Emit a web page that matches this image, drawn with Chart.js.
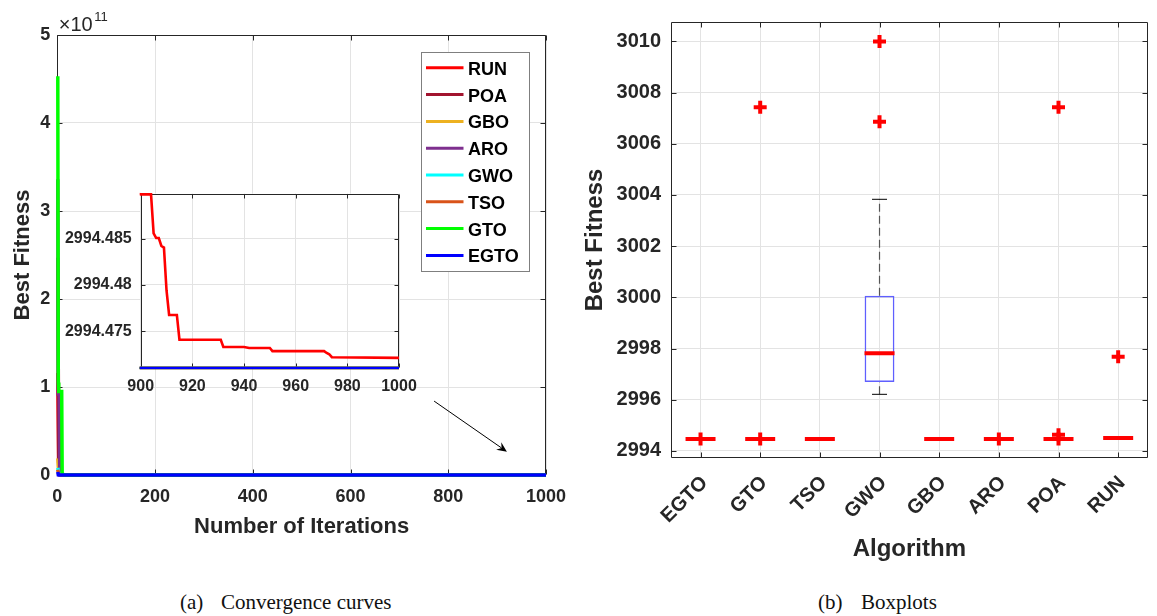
<!DOCTYPE html>
<html>
<head>
<meta charset="utf-8">
<title>Convergence curves and boxplots</title>
<script src="https://cdn.jsdelivr.net/npm/chart.js@4.4.1/dist/chart.umd.min.js"></script>
<style>
  html, body { margin: 0; padding: 0; background: #fff; }
  #page { position: relative; width: 1157px; height: 616px; overflow: hidden; background: #fff; }
  #page canvas { position: absolute; }
  #conv { left: 0; top: 0; }
  #zoom { left: 60px; top: 175px; }
  #box  { left: 560px; top: 0; }
  .cap { position: absolute; top: 592px; font-family: 'Liberation Serif', 'Times New Roman', serif;
         font-size: 21px; line-height: 1; color: #111; white-space: nowrap; }
</style>
</head>
<body>
<div id="page">
  <canvas id="conv" width="580" height="560"></canvas>
  <canvas id="zoom" width="370" height="225"></canvas>
  <canvas id="box" width="607" height="570"></canvas>
  <div class="cap" style="left:180px">(a)</div>
  <div class="cap" style="left:221px">Convergence curves</div>
  <div class="cap" style="left:818px">(b)</div>
  <div class="cap" style="left:861px">Boxplots</div>
</div>
<script>
// ---------- convergence curves: iteration breakpoints and best fitness ----------
const seriesNames  = ['RUN', 'POA', 'GBO', 'ARO', 'GWO', 'TSO', 'GTO', 'EGTO'];
const seriesColors = ['#ff0000', '#a2142f', '#edb120', '#7e2f8e', '#00ffff', '#d95319', '#00ff00', '#0000ff'];

const iterRUN = [1, 3, 5, 60, 300, 900, 904, 905, 906, 907, 908, 909, 910, 911, 914, 915, 931, 932, 940, 942, 950, 951, 971, 972, 973, 974, 1000];
const fitRUN  = [1.16e11, 4.0e9, 3150, 2996.2, 2994.52, 2994.4898, 2994.4898, 2994.48558, 2994.48507, 2994.48507,
                 2994.48421, 2994.48404, 2994.4794, 2994.47675, 2994.47675, 2994.47407, 2994.47407, 2994.47328,
                 2994.47328, 2994.47318, 2994.47318, 2994.47284, 2994.47284, 2994.47264, 2994.4725, 2994.47218, 2994.47211];
const iterPOA = [1, 3, 8, 200, 1000];
const fitPOA  = [2.47e11, 2.0e9, 3050, 2994.471, 2994.471];
const iterGBO = [1, 3, 6, 150, 1000];
const fitGBO  = [1.9e10, 1.5e9, 3020, 2994.471, 2994.471];
const iterARO = [1, 2, 4, 5, 8, 250, 1000];
const fitARO  = [3.36e11, 9.2e10, 9.2e10, 3.0e9, 3080, 2994.471, 2994.471];
const iterGWO = [1, 3, 6, 400, 1000];
const fitGWO  = [8.0e9, 2.5e9, 3200, 2998.1, 2997.81];
const iterTSO = [1, 3, 6, 120, 1000];
const fitTSO  = [6.0e9, 4.0e8, 3010, 2994.471, 2994.471];
const iterGTO = [1, 2, 3, 9, 10, 14, 300, 1000];
const fitGTO  = [4.53e11, 1.05e11, 9.5e10, 9.5e10, 2.0e9, 3300, 2994.471, 2994.471];
const iterEGTO = [1, 2, 5, 100, 1000];
const fitEGTO  = [3.5e9, 2.0e8, 3040, 2994.471, 2994.471];

const convTicksX = [0, 200, 400, 600, 800, 1000];
const convTicksY = [0, 1, 2, 3, 4, 5];          // in units of 10^11
const convExponent = 11;
const zoomTicksX = [900, 920, 940, 960, 980, 1000];
const zoomTicksY = [2994.475, 2994.48, 2994.485];
const arrowFrom = [771, 0.84e11];               // [iteration, fitness]
const arrowTo   = [920, 0.265e11];

// ---------- boxplot statistics ----------
const algorithms  = ['EGTO', 'GTO', 'TSO', 'GWO', 'GBO', 'ARO', 'POA', 'RUN'];
const boxQ1       = [2994.46, 2994.46, 2994.46, 2996.69, 2994.46, 2994.46, 2994.46, 2994.50];
const boxQ3       = [2994.46, 2994.46, 2994.46, 3000.06, 2994.46, 2994.46, 2994.46, 2994.50];
const boxMedian   = [2994.46, 2994.46, 2994.46, 2997.81, 2994.46, 2994.46, 2994.46, 2994.50];
const whiskerLow  = [2994.46, 2994.46, 2994.46, 2996.21, 2994.46, 2994.46, 2994.46, 2994.50];
const whiskerHigh = [2994.46, 2994.46, 2994.46, 3003.83, 2994.46, 2994.46, 2994.46, 2994.50];
const outlierAlg  = ['EGTO', 'GTO', 'GTO', 'GWO', 'GWO', 'ARO', 'POA', 'POA', 'POA', 'RUN'];
const outlierFit  = [2994.46, 3007.43, 2994.46, 3010.00, 3006.86, 2994.46, 3007.43, 2994.46, 2994.63, 2997.68];
const boxTicksY   = [2994, 2996, 2998, 3000, 3002, 3004, 3006, 3008, 3010];

// ---------- styling ----------
const INK = '#262626';
const GRID = '#e3e3e3';
const SANS = "'Liberation Sans', Arial, Helvetica, sans-serif";
const bold = size => ({ family: SANS, size: size, weight: 'bold' });
const plain = v => String(v);

const convSeries = [
  { iters: iterRUN, fits: fitRUN }, { iters: iterPOA, fits: fitPOA }, { iters: iterGBO, fits: fitGBO },
  { iters: iterARO, fits: fitARO }, { iters: iterGWO, fits: fitGWO }, { iters: iterTSO, fits: fitTSO },
  { iters: iterGTO, fits: fitGTO }, { iters: iterEGTO, fits: fitEGTO }
];

function convDatasets(width, clip) {
  // later series are drawn above earlier ones (EGTO on top)
  return convSeries.map((s, i) => ({
    label: seriesNames[i],
    data: s.iters.map((it, k) => ({ x: it, y: s.fits[k] })),
    borderColor: seriesColors[i],
    backgroundColor: seriesColors[i],
    borderWidth: width,
    pointRadius: 0,
    tension: 0,
    clip: clip,
    order: convSeries.length - 1 - i
  }));
}

const setTicks = values => scale => { scale.ticks = values.map(v => ({ value: v })); };

// box around the plot area with inward tick marks on all four sides
const framePlugin = {
  id: 'frame',
  beforeDraw(chart, args, o) {
    if (!o.fill) return;
    const { ctx, chartArea: a } = chart;
    ctx.save();
    ctx.fillStyle = o.fill;
    ctx.fillRect(a.left, a.top, a.right - a.left, a.bottom - a.top);
    ctx.restore();
  },
  beforeDatasetsDraw(chart, args, o) {
    const { ctx, chartArea: a, scales } = chart;
    const L = Math.round(a.left) + 0.5, R = Math.round(a.right) - 0.5;
    const T = Math.round(a.top) + 0.5, B = Math.round(a.bottom) - 0.5;
    const len = o.tick || 5;
    ctx.save();
    ctx.strokeStyle = INK;
    ctx.lineWidth = 1;
    ctx.beginPath();
    ctx.rect(L, T, R - L, B - T);
    scales.x.ticks.forEach((t, i) => {
      const p = Math.round(scales.x.getPixelForTick(i)) + 0.5;
      ctx.moveTo(p, B); ctx.lineTo(p, B - len);
      ctx.moveTo(p, T); ctx.lineTo(p, T + len);
    });
    scales.y.ticks.forEach((t, i) => {
      const p = Math.round(scales.y.getPixelForTick(i)) + 0.5;
      ctx.moveTo(L, p); ctx.lineTo(L + len, p);
      ctx.moveTo(R, p); ctx.lineTo(R - len, p);
    });
    ctx.stroke();
    ctx.restore();
  }
};

// "×10^11" multiplier above the y axis
const exponentPlugin = {
  id: 'exponent',
  afterDraw(chart) {
    const { ctx, chartArea: a } = chart;
    ctx.save();
    ctx.fillStyle = INK;
    ctx.textBaseline = 'alphabetic';
    ctx.textAlign = 'left';
    ctx.font = `20px ${SANS}`;
    const base = '\u00d710';
    ctx.fillText(base, a.left + 1.5, a.top - 4);
    const w = ctx.measureText(base).width;
    ctx.font = `13px ${SANS}`;
    ctx.fillText(String(convExponent), a.left + 3 + w, a.top - 14);
    ctx.restore();
  }
};

// legend box in the upper right of the plot area
const legendPlugin = {
  id: 'boxLegend',
  afterDatasetsDraw(chart, args, o) {
    const { ctx, chartArea: a } = chart;
    const x0 = Math.round(a.right - o.right - o.width) + 0.5;
    const y0 = Math.round(a.top + o.top) + 0.5;
    ctx.save();
    ctx.fillStyle = '#fff';
    ctx.fillRect(x0, y0, o.width, o.height);
    ctx.strokeStyle = '#7f7f7f';
    ctx.lineWidth = 1;
    ctx.strokeRect(x0, y0, o.width, o.height);
    ctx.font = `bold 18px ${SANS}`;
    ctx.textBaseline = 'middle';
    ctx.textAlign = 'left';
    chart.data.datasets.forEach((ds, i) => {
      const cy = y0 + o.first + i * o.step;
      ctx.strokeStyle = ds.borderColor;
      ctx.lineWidth = 3;
      ctx.beginPath();
      ctx.moveTo(x0 + 4.5, cy - 2);
      ctx.lineTo(x0 + 42, cy - 2);
      ctx.stroke();
      ctx.fillStyle = '#000';
      ctx.fillText(ds.label, x0 + 46.5, cy);
    });
    ctx.restore();
  }
};

// arrow pointing from the zoomed view to the region it magnifies
const arrowPlugin = {
  id: 'zoomArrow',
  afterDatasetsDraw(chart) {
    const { ctx, scales: { x, y } } = chart;
    const x1 = x.getPixelForValue(arrowFrom[0]), y1 = y.getPixelForValue(arrowFrom[1]);
    const x2 = x.getPixelForValue(arrowTo[0]),   y2 = y.getPixelForValue(arrowTo[1]);
    const ang = Math.atan2(y2 - y1, x2 - x1);
    const ux = Math.cos(ang), uy = Math.sin(ang);
    const head = 10, half = 4.5, notch = 6.5;
    ctx.save();
    ctx.strokeStyle = '#000';
    ctx.fillStyle = '#000';
    ctx.lineWidth = 1;
    ctx.beginPath();
    ctx.moveTo(x1, y1);
    ctx.lineTo(x2 - ux * notch, y2 - uy * notch);
    ctx.stroke();
    ctx.beginPath();
    ctx.moveTo(x2, y2);
    ctx.lineTo(x2 - ux * head - uy * half, y2 - uy * head + ux * half);
    ctx.lineTo(x2 - ux * notch, y2 - uy * notch);
    ctx.lineTo(x2 - ux * head + uy * half, y2 - uy * head - ux * half);
    ctx.closePath();
    ctx.fill();
    ctx.restore();
  }
};

const common = { responsive: false, animation: false, events: [], devicePixelRatio: 1 };

// ---------- (a) convergence curves ----------
new Chart(document.getElementById('conv'), {
  type: 'line',
  data: { datasets: convDatasets(3.5, 3) },
  options: Object.assign({}, common, {
    layout: { padding: { top: 35, right: 34, left: 0, bottom: 0 } },
    plugins: {
      legend: { display: false },
      tooltip: { enabled: false },
      frame: { tick: 5 },
      boxLegend: { right: 17, top: 16.7, width: 108, height: 219, first: 17.3, step: 26.8 }
    },
    scales: {
      x: {
        type: 'linear', min: 0, max: 1000,
        afterBuildTicks: setTicks(convTicksX),
        afterFit: s => { s.height = 85; },
        grid: { color: GRID, drawTicks: false },
        border: { display: false },
        ticks: { color: INK, font: bold(18), padding: 11.5, maxRotation: 0, autoSkip: false, callback: plain },
        title: { display: true, text: 'Number of Iterations', color: INK, font: bold(22), padding: { top: 0, bottom: 20 } }
      },
      y: {
        type: 'linear', min: 0, max: 5 * Math.pow(10, convExponent),
        afterBuildTicks: setTicks(convTicksY.map(v => v * Math.pow(10, convExponent))),
        afterFit: s => { s.width = 57.3; },
        grid: { color: GRID, drawTicks: false },
        border: { display: false },
        ticks: { color: INK, font: bold(18), padding: 7,
                 callback: v => String(Math.round(v / Math.pow(10, convExponent))) },
        title: { display: true, text: 'Best Fitness', color: INK, font: bold(22), padding: { top: 9.3, bottom: 0 } }
      }
    }
  }),
  plugins: [framePlugin, exponentPlugin, legendPlugin, arrowPlugin]
});

// ---------- zoomed view of the last 100 iterations ----------
new Chart(document.getElementById('zoom'), {
  type: 'line',
  data: { datasets: convDatasets(2.6, 1) },
  options: Object.assign({}, common, {
    layout: { padding: { top: 10, right: 31, left: 0, bottom: 0 } },
    plugins: { legend: { display: false }, tooltip: { enabled: false }, frame: { tick: 4, fill: '#fff' } },
    scales: {
      x: {
        type: 'linear', min: 900, max: 1000,
        afterBuildTicks: setTicks(zoomTicksX),
        afterFit: s => { s.height = 31.7; },
        grid: { color: GRID, drawTicks: false },
        border: { display: false },
        ticks: { color: INK, font: bold(16), padding: 8.8, maxRotation: 0, autoSkip: false, callback: plain }
      },
      y: {
        type: 'linear', min: 2994.470979, max: 2994.48988,
        afterBuildTicks: setTicks(zoomTicksY),
        afterFit: s => { s.width = 80.7; },
        grid: { color: GRID, drawTicks: false },
        border: { display: false },
        ticks: { color: INK, font: bold(16), padding: 9, callback: v => String(+v.toFixed(3)) }
      }
    }
  }),
  plugins: [framePlugin]
});

// ---------- (b) boxplots ----------
const whiskerSets = [];
algorithms.forEach((alg, i) => {
  if (whiskerHigh[i] > boxQ3[i]) whiskerSets.push([{ x: alg, y: boxQ3[i] }, { x: alg, y: whiskerHigh[i] }]);
  if (whiskerLow[i] < boxQ1[i])  whiskerSets.push([{ x: alg, y: whiskerLow[i] }, { x: alg, y: boxQ1[i] }]);
});

const boxDatasets = [
  {
    type: 'bar',
    data: algorithms.map((a, i) => [boxQ1[i], boxQ3[i]]),
    backgroundColor: 'rgba(0,0,0,0)',
    borderColor: 'rgb(95,95,255)',
    borderWidth: 1.5,
    borderSkipped: false,
    barPercentage: 0.5,
    categoryPercentage: 1,
    order: 5
  },
  ...whiskerSets.map(d => ({
    type: 'line', data: d, borderColor: '#555', borderWidth: 1.2, borderDash: [8, 4],
    pointRadius: 0, order: 4
  })),
  {
    type: 'line',
    data: algorithms.flatMap((a, i) => [{ x: a, y: whiskerLow[i] }, { x: a, y: whiskerHigh[i] }]),
    showLine: false, pointStyle: 'line', pointRadius: 7.5,
    pointBorderColor: '#000', pointBorderWidth: 1, order: 3
  },
  {
    type: 'line',
    data: algorithms.map((a, i) => ({ x: a, y: boxMedian[i] })),
    showLine: false, pointStyle: 'line', pointRadius: 15,
    pointBorderColor: '#ff0000', pointBorderWidth: 4, order: 2
  },
  {
    type: 'line',
    data: outlierAlg.map((a, i) => ({ x: a, y: outlierFit[i] })),
    showLine: false, pointStyle: 'cross', pointRadius: 6.5,
    pointBorderColor: '#ff0000', pointBorderWidth: 4, order: 1
  }
];

new Chart(document.getElementById('box'), {
  type: 'bar',
  data: { labels: algorithms, datasets: boxDatasets },
  options: Object.assign({}, common, {
    layout: { padding: { top: 15, right: 10, left: 0, bottom: 0 } },
    plugins: { legend: { display: false }, tooltip: { enabled: false }, frame: { tick: 5 } },
    scales: {
      x: {
        type: 'category', offset: true,
        afterFit: s => { s.height = 111.7; },
        grid: { color: GRID, drawTicks: false, offset: false },
        border: { display: false },
        ticks: { color: INK, font: bold(20), padding: 13, labelOffset: 4,
                 minRotation: 45, maxRotation: 45, autoSkip: false },
        title: { display: true, text: 'Algorithm', color: INK, font: bold(24), padding: { top: 0, bottom: 6.3 } }
      },
      y: {
        type: 'linear', min: 2993.71, max: 3010.77, beginAtZero: false,
        afterBuildTicks: setTicks(boxTicksY),
        afterFit: s => { s.width = 110.7; },
        grid: { color: GRID, drawTicks: false },
        border: { display: false },
        ticks: { color: INK, font: bold(20), padding: 9.7, callback: plain },
        title: { display: true, text: 'Best Fitness', color: INK, font: bold(24), padding: { top: 20.6, bottom: 0 } }
      }
    }
  }),
  plugins: [framePlugin]
});
</script>
</body>
</html>
